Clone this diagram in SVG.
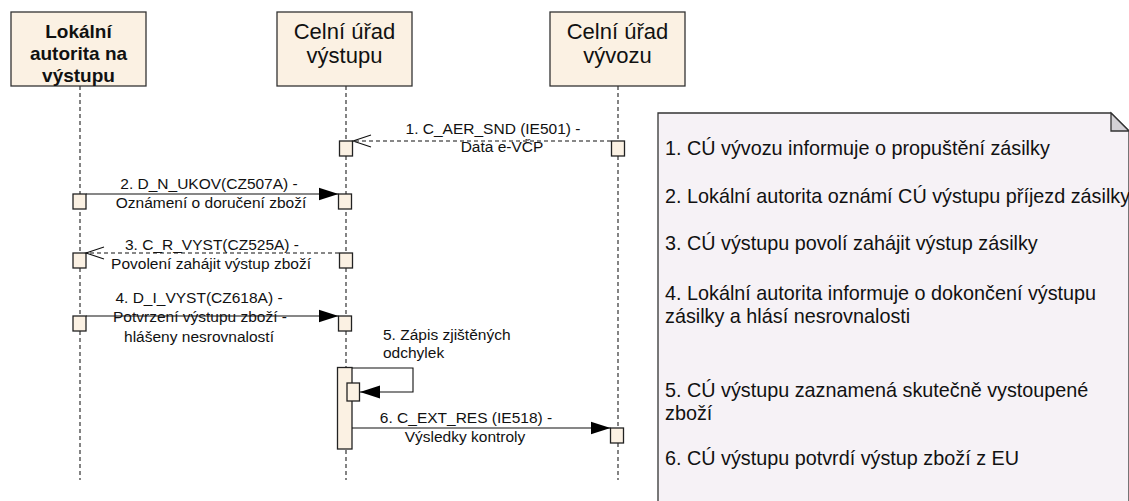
<svg xmlns="http://www.w3.org/2000/svg" width="1129" height="501" viewBox="0 0 1129 501">
<defs>
<style>
.hdr{fill:#FBF1E3;stroke:#333;stroke-width:1.3}
.act{fill:#FBF1E3;stroke:#222;stroke-width:1.3}
.life{stroke:#333;stroke-width:1.2;stroke-dasharray:4,3;fill:none}
.msg{stroke:#111;stroke-width:1.1;fill:none}
.dash{stroke-dasharray:4,3}
.t{font-family:"Liberation Sans",Arial,sans-serif;fill:#111}
.h{font-size:22px;text-anchor:middle}
.hb{font-size:19px;font-weight:bold;text-anchor:middle}
.m{font-size:15.5px;text-anchor:middle}
.ms{font-size:15.5px}
.n{font-size:19.8px}
</style>
<marker id="fill" markerUnits="userSpaceOnUse" markerWidth="22" markerHeight="16" refX="20" refY="7" orient="auto">
<path d="M0,0.5 L20,7 L0,13.5 z" fill="#000"/>
</marker>
<marker id="open" markerUnits="userSpaceOnUse" markerWidth="22" markerHeight="16" refX="19" refY="7" orient="auto">
<path d="M1,1 L19,7 L1,13" fill="none" stroke="#111" stroke-width="1.1"/>
</marker>
</defs>
<rect width="1129" height="501" fill="#fff"/>

<g id="lifelines">
<line class="life" x1="80" y1="86" x2="80" y2="480"/>
<line class="life" x1="346" y1="86" x2="346" y2="480"/>
<line class="life" x1="618" y1="86" x2="618" y2="480"/>
</g>

<g id="node-lokalni">
<rect class="hdr" x="11" y="12" width="135" height="74"/>
<text class="t hb" x="78.5" y="38">Lokální</text>
<text class="t hb" x="78.5" y="60">autorita na</text>
<text class="t hb" x="78.5" y="82">výstupu</text>
</g>
<g id="node-vystupu">
<rect class="hdr" x="277" y="12" width="135" height="74"/>
<text class="t h" x="344.5" y="39">Celní úřad</text>
<text class="t h" x="344.5" y="63">výstupu</text>
</g>
<g id="node-vyvozu">
<rect class="hdr" x="550" y="12" width="135" height="74"/>
<text class="t h" x="617.5" y="39">Celní úřad</text>
<text class="t h" x="617.5" y="63">vývozu</text>
</g>

<g id="activations">
<rect class="act" x="339.5" y="141" width="13" height="15"/>
<rect class="act" x="611.5" y="141" width="13" height="15"/>
<rect class="act" x="73" y="194" width="13" height="15"/>
<rect class="act" x="338.5" y="194" width="13" height="15"/>
<rect class="act" x="73" y="253" width="13" height="15"/>
<rect class="act" x="339.5" y="253" width="13" height="15"/>
<rect class="act" x="73" y="316" width="13" height="15"/>
<rect class="act" x="338.5" y="316" width="13" height="15"/>
<rect class="act" x="337.5" y="367.5" width="14.5" height="81.5"/>
<rect class="act" x="347" y="383" width="12.5" height="18"/>
<rect class="act" x="610.5" y="428" width="13" height="15"/>
</g>

<g id="connectors">
<line class="msg dash" x1="611" y1="141" x2="353" y2="141" marker-end="url(#open)"/>
<line class="msg" x1="86" y1="194" x2="338.5" y2="194" marker-end="url(#fill)"/>
<line class="msg dash" x1="339" y1="253" x2="86" y2="253" marker-end="url(#open)"/>
<line class="msg" x1="86" y1="316" x2="338.5" y2="316" marker-end="url(#fill)"/>
<polyline class="msg" points="352,368 413,368 413,392 360,392" marker-end="url(#fill)"/>
<line class="msg" x1="352" y1="428" x2="610.5" y2="428" marker-end="url(#fill)"/>
</g>

<g id="labels">
<text class="t m" x="493" y="134">1. C_AER_SND (IE501) -</text>
<text class="t m" x="502" y="152">Data e-VČP</text>
<text class="t m" x="209" y="189">2. D_N_UKOV(CZ507A) -</text>
<text class="t m" x="211" y="208">Oznámení o doručení zboží</text>
<text class="t m" x="212" y="250">3. C_R_VYST(CZ525A) -</text>
<text class="t m" x="211" y="269">Povolení zahájit výstup zboží</text>
<text class="t m" x="199" y="303">4. D_I_VYST(CZ618A) -</text>
<text class="t m" x="200" y="322">Potvrzení výstupu zboží -</text>
<text class="t m" x="199" y="342">hlášeny nesrovnalostí</text>
<text class="t ms" x="383" y="340">5. Zápis zjištěných</text>
<text class="t ms" x="383" y="358">odchylek</text>
<text class="t m" x="466" y="423">6. C_EXT_RES (IE518) -</text>
<text class="t m" x="465" y="442">Výsledky kontroly</text>
</g>

<g id="note">
<path d="M658,113 L1111,113 L1129,131 L1129,505 L658,505 Z" fill="#F6F2F6" stroke="#333" stroke-width="1.3"/>
<path d="M1111,113 L1111,131 L1129,131 Z" fill="#D3D1D5" stroke="#333" stroke-width="1.3"/>
<text class="t n" x="665" y="155">1. CÚ vývozu informuje o propuštění zásilky</text>
<text class="t n" x="665" y="203">2. Lokální autorita oznámí CÚ výstupu příjezd zásilky</text>
<text class="t n" x="665" y="250">3. CÚ výstupu povolí zahájit výstup zásilky</text>
<text class="t n" x="665" y="300">4. Lokální autorita informuje o dokončení výstupu</text>
<text class="t n" x="665" y="323">zásilky a hlásí nesrovnalosti</text>
<text class="t n" x="665" y="397">5. CÚ výstupu zaznamená skutečně vystoupené</text>
<text class="t n" x="665" y="420">zboží</text>
<text class="t n" x="665" y="465">6. CÚ výstupu potvrdí výstup zboží z EU</text>
</g>
</svg>
